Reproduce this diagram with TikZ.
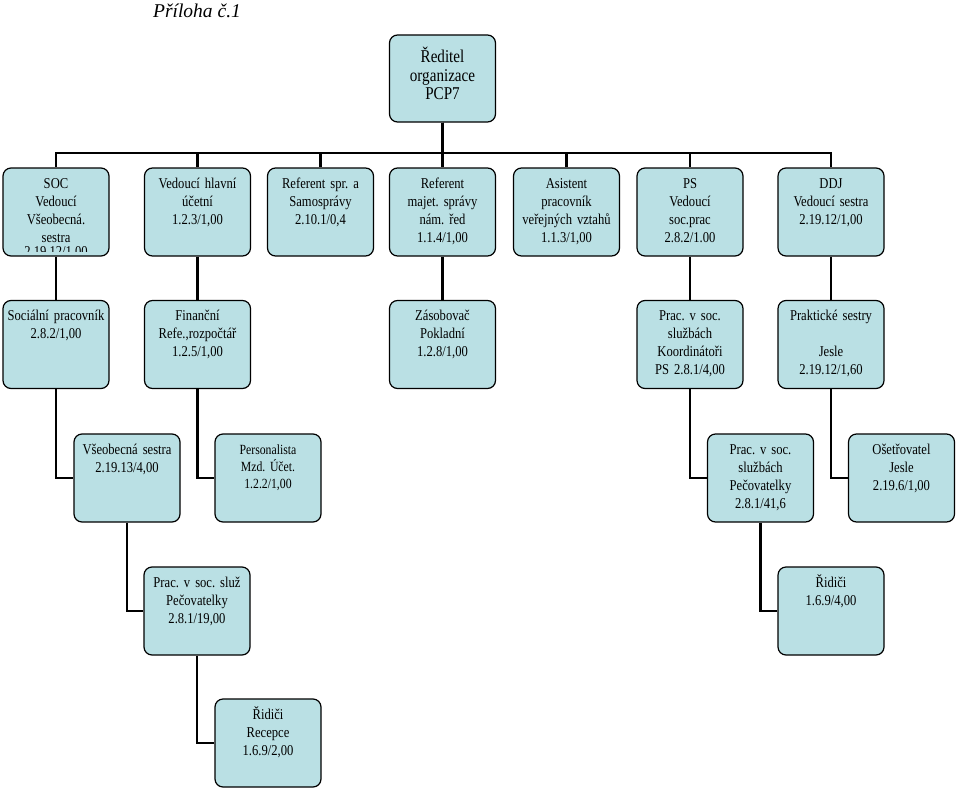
\documentclass[tikz,border=0pt]{standalone}
\usepackage{fontspec}
\setmainfont{Liberation Serif}[FakeStretch=0.84, WordSpace=0.65]
\newfontfamily\titlefont{Liberation Serif}
\definecolor{boxfill}{RGB}{186,224,228}
\frenchspacing

\begin{document}
\begin{tikzpicture}[x=1pt, y=-1pt,
	unit/.style={draw, line width=1.2pt, fill=boxfill, rounded corners=8pt,
		text width=102pt, align=center, inner xsep=2pt, inner ysep=2pt,
		text height=18pt, text depth=66pt,
		font=\fontsize{15}{18}\selectfont},
	link/.style={line width=2.6pt}]

\useasboundingbox (0,0) rectangle (960,789);

\node (title) at (197,11) {\titlefont\fontsize{19.5}{22}\selectfont\itshape Příloha č.1};

% boxes
\node[unit, text height=26pt, text depth=57pt, font=\fontsize{18}{18.5}\selectfont]
	(reditel) at (442.5,78.5) {Ředitel\\organizace\\PCP7};

\node[unit] (soc) at (56,212) {SOC\\Vedoucí\\Všeobecná.\\sestra};
\node[unit] (hlavni) at (197.5,212) {Vedoucí hlavní\\účetní\\1.2.3/1,00};
\node[unit] (samospr) at (320.5,212) {Referent spr. a\\Samosprávy\\2.10.1/0,4};
\node[unit] (majet) at (442.5,212) {Referent\\majet. správy\\nám. řed\\1.1.4/1,00};
\node[unit] (asistent) at (566.5,212) {Asistent\\pracovník\\veřejných vztahů\\1.1.3/1,00};
\node[unit] (ps) at (690,212) {PS\\Vedoucí\\soc.prac\\2.8.2/1.00};
\node[unit] (ddj) at (831,212) {DDJ\\Vedoucí sestra\\2.19.12/1,00};

\begin{scope}
	\clip ([yshift=5pt]soc.south west) rectangle (soc.north east);
	\node[anchor=base, inner sep=0pt, font=\fontsize{15}{18}\selectfont]
		(socnum) at ([yshift=-89pt]soc.north) {2.19.12/1,00};
\end{scope}

\node[unit] (socprac) at (56,344.5) {Sociální pracovník\\2.8.2/1,00};
\node[unit] (financni) at (197.5,344.5) {Finanční\\Refe.,rozpočtář\\1.2.5/1,00};
\node[unit] (zasob) at (442.5,344.5) {Zásobovač\\Pokladní\\1.2.8/1,00};
\node[unit] (koord) at (690,344.5) {Prac. v soc.\\službách\\Koordinátoři\\PS 2.8.1/4,00};
\node[unit] (praktik) at (831,344.5) {Praktické sestry\\\mbox{}\\Jesle\\2.19.12/1,60};

\node[unit] (vseob) at (127,478) {Všeobecná sestra\\2.19.13/4,00};
\node[unit, font=\fontsize{14}{17}\selectfont] (personal) at (268,478) {Personalista\\Mzd. Účet.\\1.2.2/1,00};
\node[unit] (pecov) at (760.5,478) {Prac. v soc.\\službách\\Pečovatelky\\2.8.1/41,6};
\node[unit] (osetr) at (901.5,478) {Ošetřovatel\\Jesle\\2.19.6/1,00};

\node[unit] (pecsluz) at (197,611) {Prac. v soc. služ\\Pečovatelky\\2.8.1/19,00};
\node[unit] (ridici) at (831,611) {Řidiči\\1.6.9/4,00};

\node[unit] (recepce) at (268,743) {Řidiči\\Recepce\\1.6.9/2,00};

% lines
\coordinate (bus) at (442.5,153);
\foreach \c in {soc,hlavni,samospr,majet,asistent,ps,ddj} {
	\draw[link] (reditel.south) -- (bus) -| (\c.north);
}

\foreach \a/\b in {soc/socprac, hlavni/financni, majet/zasob, ps/koord, ddj/praktik} {
	\draw[link] (\a.south) -- (\b.north);
}

\foreach \a/\b in {socprac/vseob, financni/personal, vseob/pecsluz, pecsluz/recepce,
	koord/pecov, praktik/osetr, pecov/ridici} {
	\draw[link] (\a.south) |- (\b.west);
}

\end{tikzpicture}
\end{document}
